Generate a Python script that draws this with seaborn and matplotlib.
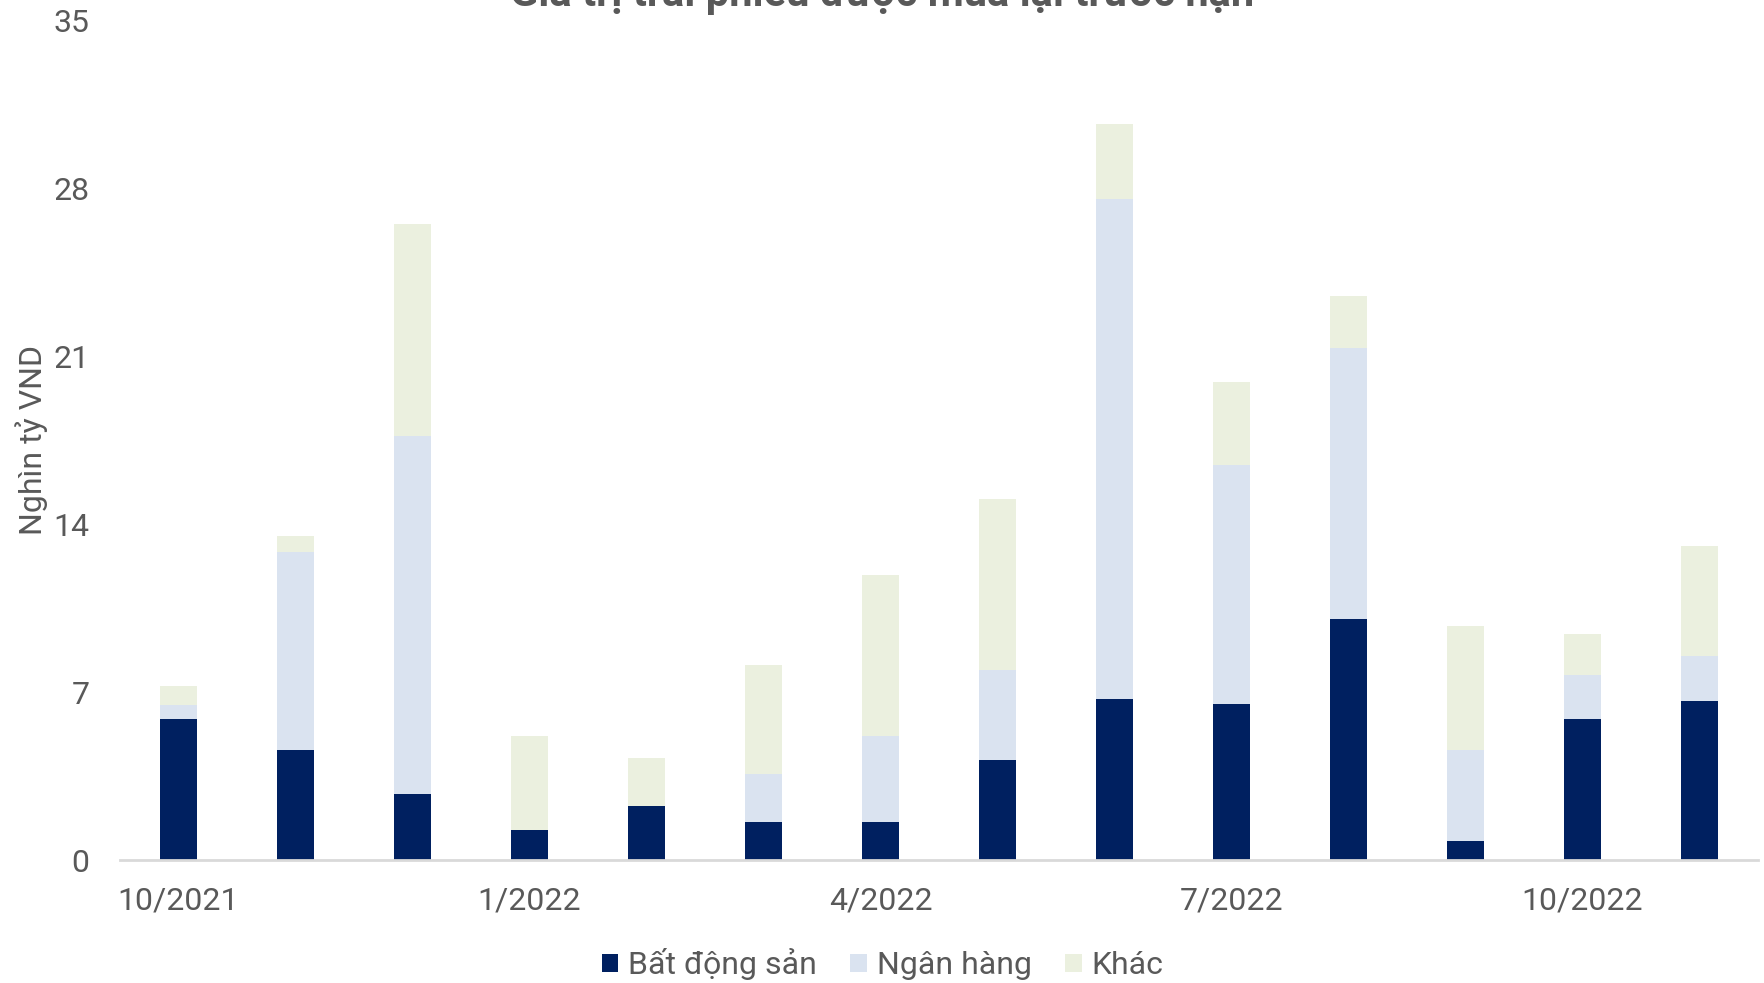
import numpy as np
import pandas as pd
import matplotlib
matplotlib.use("Agg")
import matplotlib.pyplot as plt
import seaborn as sns
from matplotlib.patches import Patch

months = ["10/2021", "11/2021", "12/2021", "1/2022", "2/2022", "3/2022", "4/2022",
          "5/2022", "6/2022", "7/2022", "8/2022", "9/2022", "10/2022", "11/2022"]
bat_dong_san = [5.87, 4.60, 2.77, 1.27, 2.25, 1.60, 1.60, 4.18, 6.71, 6.53, 10.05, 0.80, 5.87, 6.62]
ngan_hang = [0.61, 8.26, 14.93, 0.00, 0.00, 2.00, 3.56, 3.75, 20.85, 9.95, 11.31, 3.80, 1.83, 1.88]
khac = [0.80, 0.66, 8.83, 3.89, 2.02, 4.52, 6.72, 7.14, 3.14, 3.47, 2.16, 5.17, 1.74, 4.60]
series_names = ["Bất động sản", "Ngân hàng", "Khác"]
shown_ticks = ["10/2021", "1/2022", "4/2022", "7/2022", "10/2022"]
yticks = [0, 7, 14, 21, 28, 35]
title = "Giá trị trái phiếu được mua lại trước hạn"
ylabel = "Nghìn tỷ VND"

colors = ["#002060", "#DAE3F0", "#EBF0DF"]
text_color = "#595959"

sns.set_theme(style="white")
plt.rcParams["font.family"] = ["Roboto", "DejaVu Sans"]

df = pd.DataFrame({"month": months, "bds": bat_dong_san, "nh": ngan_hang, "khac": khac})
df["lvl1"] = df["bds"]
df["lvl2"] = df["bds"] + df["nh"]
df["lvl3"] = df["lvl2"] + df["khac"]

fig, ax = plt.subplots(figsize=(17.65, 9.83), dpi=100)
fig.subplots_adjust(left=0.068, right=0.996, bottom=0.125, top=0.979)

w = 0.32
sns.barplot(data=df, x="month", y="lvl3", color=colors[2], width=w, ax=ax, saturation=1, order=months)
sns.barplot(data=df, x="month", y="lvl2", color=colors[1], width=w, ax=ax, saturation=1, order=months)
sns.barplot(data=df, x="month", y="lvl1", color=colors[0], width=w, ax=ax, saturation=1, order=months)
for p in ax.patches:
    p.set_linewidth(0)

ax.set_xlim(-0.5, len(months) - 0.5)
ax.set_ylim(0, 35)
ax.set_yticks(yticks)
ax.set_yticklabels([str(t) for t in yticks], fontsize=23, color=text_color)
ax.set_xticks(range(len(months)))
ax.set_xticklabels([m if m in shown_ticks else "" for m in months], fontsize=23, color=text_color)
ax.tick_params(axis="both", length=0)
ax.tick_params(axis="x", pad=19)
ax.tick_params(axis="y", pad=22)
ax.set_xlabel("")
ax.set_ylabel(ylabel, fontsize=23, color=text_color, labelpad=4)

for s in ["top", "right", "left"]:
    ax.spines[s].set_visible(False)
ax.spines["bottom"].set_color("#D9D9D9")
ax.spines["bottom"].set_linewidth(2)

handles = [Patch(facecolor=c, edgecolor="none") for c in colors]
fig.legend(handles, series_names, loc="center", bbox_to_anchor=(0.5, 0.019), ncol=3,
           frameon=False, fontsize=23, labelcolor=text_color, handlelength=0.52,
           handleheight=0.52, handletextpad=0.3, columnspacing=1.05)

fig.text(0.5, 0.994, title, ha="center", va="baseline", fontsize=30, fontweight="bold", color=text_color)

fig.savefig("out.png", dpi=100)
